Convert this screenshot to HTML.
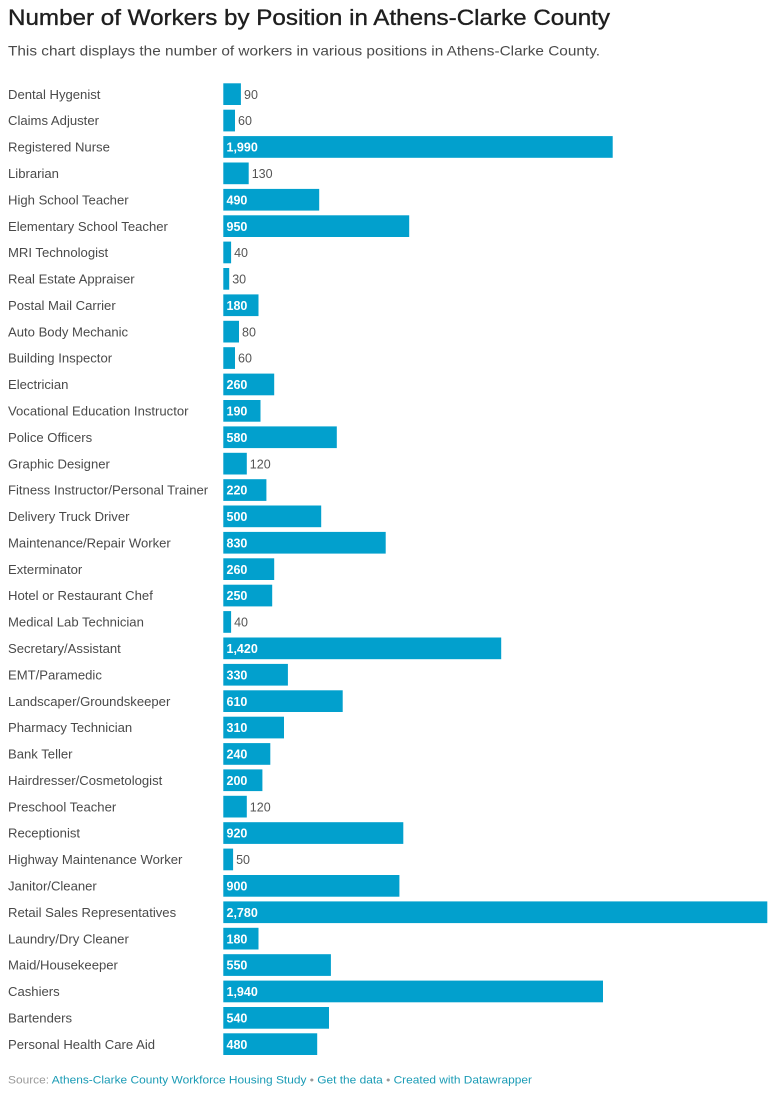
<!DOCTYPE html>
<html><head><meta charset="utf-8"><style>
html,body{margin:0;padding:0;background:#fff;}
svg{display:block;}
.l{font-family:"Liberation Sans",Arial,sans-serif;font-size:13.1px;fill:#4a4a4a;}
.vi{font-family:"Liberation Sans",Arial,sans-serif;font-size:12.5px;fill:#fff;font-weight:bold;}
.vo{font-family:"Liberation Sans",Arial,sans-serif;font-size:12.5px;fill:#555;}
rect.b{fill:#02a0cd;}
</style></head><body>
<svg width="780" height="1100" viewBox="0 0 780 1100" xmlns="http://www.w3.org/2000/svg">
<text x="8" y="25" font-family="Liberation Sans, Arial, sans-serif" font-size="22" fill="#1e1e1e" stroke="#1e1e1e" stroke-width="0.35" textLength="602" lengthAdjust="spacingAndGlyphs">Number of Workers by Position in Athens-Clarke County</text>
<text x="8" y="55.5" font-family="Liberation Sans, Arial, sans-serif" font-size="14" fill="#4a4a4a" textLength="592" lengthAdjust="spacingAndGlyphs">This chart displays the number of workers in various positions in Athens-Clarke County.</text>

<g transform="translate(0,83.3)"><text class="l" x="8" y="15.5">Dental Hygenist</text><rect class="b" x="223.3" y="0" width="17.6" height="21.7"/><text class="vo" x="244" y="15.5">90</text></g>
<g transform="translate(0,109.7)"><text class="l" x="8" y="15.5">Claims Adjuster</text><rect class="b" x="223.3" y="0" width="11.7" height="21.7"/><text class="vo" x="238" y="15.5">60</text></g>
<g transform="translate(0,136.1)"><text class="l" x="8" y="15.5">Registered Nurse</text><rect class="b" x="223.3" y="0" width="389.4" height="21.7"/><text class="vi" x="226.5" y="15.5">1,990</text></g>
<g transform="translate(0,162.5)"><text class="l" x="8" y="15.5">Librarian</text><rect class="b" x="223.3" y="0" width="25.4" height="21.7"/><text class="vo" x="251.7" y="15.5">130</text></g>
<g transform="translate(0,188.9)"><text class="l" x="8" y="15.5">High School Teacher</text><rect class="b" x="223.3" y="0" width="95.9" height="21.7"/><text class="vi" x="226.5" y="15.5">490</text></g>
<g transform="translate(0,215.3)"><text class="l" x="8" y="15.5">Elementary School Teacher</text><rect class="b" x="223.3" y="0" width="185.9" height="21.7"/><text class="vi" x="226.5" y="15.5">950</text></g>
<g transform="translate(0,241.6)"><text class="l" x="8" y="15.5">MRI Technologist</text><rect class="b" x="223.3" y="0" width="7.8" height="21.7"/><text class="vo" x="234.1" y="15.5">40</text></g>
<g transform="translate(0,268.0)"><text class="l" x="8" y="15.5">Real Estate Appraiser</text><rect class="b" x="223.3" y="0" width="5.9" height="21.7"/><text class="vo" x="232.2" y="15.5">30</text></g>
<g transform="translate(0,294.4)"><text class="l" x="8" y="15.5">Postal Mail Carrier</text><rect class="b" x="223.3" y="0" width="35.2" height="21.7"/><text class="vi" x="226.5" y="15.5">180</text></g>
<g transform="translate(0,320.8)"><text class="l" x="8" y="15.5">Auto Body Mechanic</text><rect class="b" x="223.3" y="0" width="15.7" height="21.7"/><text class="vo" x="242" y="15.5">80</text></g>
<g transform="translate(0,347.2)"><text class="l" x="8" y="15.5">Building Inspector</text><rect class="b" x="223.3" y="0" width="11.7" height="21.7"/><text class="vo" x="238" y="15.5">60</text></g>
<g transform="translate(0,373.6)"><text class="l" x="8" y="15.5">Electrician</text><rect class="b" x="223.3" y="0" width="50.9" height="21.7"/><text class="vi" x="226.5" y="15.5">260</text></g>
<g transform="translate(0,400.0)"><text class="l" x="8" y="15.5">Vocational Education Instructor</text><rect class="b" x="223.3" y="0" width="37.2" height="21.7"/><text class="vi" x="226.5" y="15.5">190</text></g>
<g transform="translate(0,426.4)"><text class="l" x="8" y="15.5">Police Officers</text><rect class="b" x="223.3" y="0" width="113.5" height="21.7"/><text class="vi" x="226.5" y="15.5">580</text></g>
<g transform="translate(0,452.8)"><text class="l" x="8" y="15.5">Graphic Designer</text><rect class="b" x="223.3" y="0" width="23.5" height="21.7"/><text class="vo" x="249.8" y="15.5">120</text></g>
<g transform="translate(0,479.2)"><text class="l" x="8" y="15.5">Fitness Instructor/Personal Trainer</text><rect class="b" x="223.3" y="0" width="43.1" height="21.7"/><text class="vi" x="226.5" y="15.5">220</text></g>
<g transform="translate(0,505.5)"><text class="l" x="8" y="15.5">Delivery Truck Driver</text><rect class="b" x="223.3" y="0" width="97.9" height="21.7"/><text class="vi" x="226.5" y="15.5">500</text></g>
<g transform="translate(0,531.9)"><text class="l" x="8" y="15.5">Maintenance/Repair Worker</text><rect class="b" x="223.3" y="0" width="162.4" height="21.7"/><text class="vi" x="226.5" y="15.5">830</text></g>
<g transform="translate(0,558.3)"><text class="l" x="8" y="15.5">Exterminator</text><rect class="b" x="223.3" y="0" width="50.9" height="21.7"/><text class="vi" x="226.5" y="15.5">260</text></g>
<g transform="translate(0,584.7)"><text class="l" x="8" y="15.5">Hotel or Restaurant Chef</text><rect class="b" x="223.3" y="0" width="48.9" height="21.7"/><text class="vi" x="226.5" y="15.5">250</text></g>
<g transform="translate(0,611.1)"><text class="l" x="8" y="15.5">Medical Lab Technician</text><rect class="b" x="223.3" y="0" width="7.8" height="21.7"/><text class="vo" x="234.1" y="15.5">40</text></g>
<g transform="translate(0,637.5)"><text class="l" x="8" y="15.5">Secretary/Assistant</text><rect class="b" x="223.3" y="0" width="277.9" height="21.7"/><text class="vi" x="226.5" y="15.5">1,420</text></g>
<g transform="translate(0,663.9)"><text class="l" x="8" y="15.5">EMT/Paramedic</text><rect class="b" x="223.3" y="0" width="64.6" height="21.7"/><text class="vi" x="226.5" y="15.5">330</text></g>
<g transform="translate(0,690.3)"><text class="l" x="8" y="15.5">Landscaper/Groundskeeper</text><rect class="b" x="223.3" y="0" width="119.4" height="21.7"/><text class="vi" x="226.5" y="15.5">610</text></g>
<g transform="translate(0,716.7)"><text class="l" x="8" y="15.5">Pharmacy Technician</text><rect class="b" x="223.3" y="0" width="60.7" height="21.7"/><text class="vi" x="226.5" y="15.5">310</text></g>
<g transform="translate(0,743.1)"><text class="l" x="8" y="15.5">Bank Teller</text><rect class="b" x="223.3" y="0" width="47.0" height="21.7"/><text class="vi" x="226.5" y="15.5">240</text></g>
<g transform="translate(0,769.4)"><text class="l" x="8" y="15.5">Hairdresser/Cosmetologist</text><rect class="b" x="223.3" y="0" width="39.1" height="21.7"/><text class="vi" x="226.5" y="15.5">200</text></g>
<g transform="translate(0,795.8)"><text class="l" x="8" y="15.5">Preschool Teacher</text><rect class="b" x="223.3" y="0" width="23.5" height="21.7"/><text class="vo" x="249.8" y="15.5">120</text></g>
<g transform="translate(0,822.2)"><text class="l" x="8" y="15.5">Receptionist</text><rect class="b" x="223.3" y="0" width="180.0" height="21.7"/><text class="vi" x="226.5" y="15.5">920</text></g>
<g transform="translate(0,848.6)"><text class="l" x="8" y="15.5">Highway Maintenance Worker</text><rect class="b" x="223.3" y="0" width="9.8" height="21.7"/><text class="vo" x="236.1" y="15.5">50</text></g>
<g transform="translate(0,875.0)"><text class="l" x="8" y="15.5">Janitor/Cleaner</text><rect class="b" x="223.3" y="0" width="176.1" height="21.7"/><text class="vi" x="226.5" y="15.5">900</text></g>
<g transform="translate(0,901.4)"><text class="l" x="8" y="15.5">Retail Sales Representatives</text><rect class="b" x="223.3" y="0" width="544.0" height="21.7"/><text class="vi" x="226.5" y="15.5">2,780</text></g>
<g transform="translate(0,927.8)"><text class="l" x="8" y="15.5">Laundry/Dry Cleaner</text><rect class="b" x="223.3" y="0" width="35.2" height="21.7"/><text class="vi" x="226.5" y="15.5">180</text></g>
<g transform="translate(0,954.2)"><text class="l" x="8" y="15.5">Maid/Housekeeper</text><rect class="b" x="223.3" y="0" width="107.6" height="21.7"/><text class="vi" x="226.5" y="15.5">550</text></g>
<g transform="translate(0,980.6)"><text class="l" x="8" y="15.5">Cashiers</text><rect class="b" x="223.3" y="0" width="379.7" height="21.7"/><text class="vi" x="226.5" y="15.5">1,940</text></g>
<g transform="translate(0,1007.0)"><text class="l" x="8" y="15.5">Bartenders</text><rect class="b" x="223.3" y="0" width="105.7" height="21.7"/><text class="vi" x="226.5" y="15.5">540</text></g>
<g transform="translate(0,1033.3)"><text class="l" x="8" y="15.5">Personal Health Care Aid</text><rect class="b" x="223.3" y="0" width="93.9" height="21.7"/><text class="vi" x="226.5" y="15.5">480</text></g>

<text x="8" y="1083.5" font-family="Liberation Sans, Arial, sans-serif" font-size="11" fill="#999" textLength="524" lengthAdjust="spacingAndGlyphs">Source: <tspan fill="#1a9bb5">Athens-Clarke County Workforce Housing Study</tspan> • <tspan fill="#1a9bb5">Get the data</tspan> • <tspan fill="#1a9bb5">Created with Datawrapper</tspan></text>
</svg>
</body></html>
